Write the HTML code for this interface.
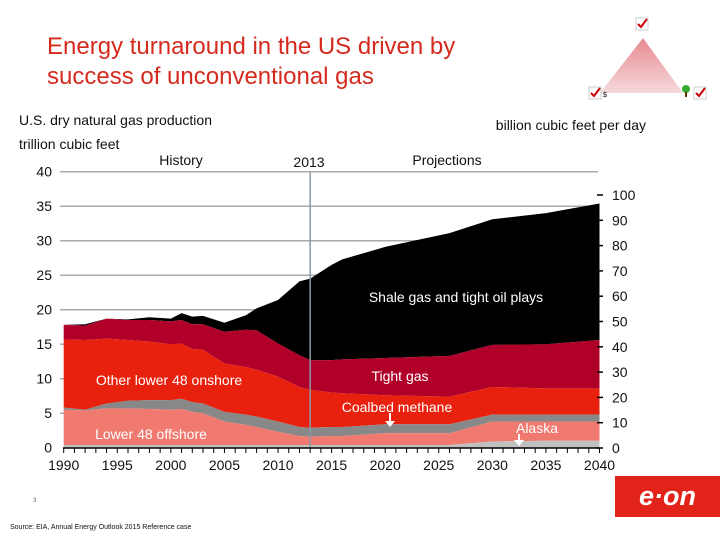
<!DOCTYPE html>
<html><head><meta charset="utf-8"><style>
body{margin:0;width:720px;height:540px;overflow:hidden;background:#fff;font-family:"Liberation Sans",sans-serif;position:relative}
.t{position:absolute;white-space:nowrap}
</style></head><body>
<div class="t" style="left:47px;top:32px;font-size:24px;line-height:30px;color:#d52b1e">Energy turnaround in the US driven by<br>success of unconventional gas</div>
<div class="t" style="left:19px;top:112px;font-size:14px;color:#111">U.S. dry natural gas production</div>
<div class="t" style="left:19px;top:136px;font-size:14px;color:#111">trillion cubic feet</div>
<div class="t" style="right:74px;top:117px;font-size:14px;color:#111">billion cubic feet per day</div>
<svg style="position:absolute;left:580px;top:15px" width="140" height="90">
<defs><linearGradient id="g" x1="0" y1="0" x2="0" y2="1"><stop offset="0" stop-color="#e58a90"/><stop offset="1" stop-color="#f6d9db"/></linearGradient></defs>
<polygon points="63,23 20,78 103,78" fill="url(#g)"/>
<rect x="56" y="3" width="12" height="12" fill="#fff" stroke="#ccc"/><path d="M58,9 l3,3 l6,-8" stroke="#c00" stroke-width="2" fill="none"/>
<rect x="9" y="72" width="12" height="12" fill="#fff" stroke="#ccc"/><path d="M11,78 l3,3 l6,-8" stroke="#c00" stroke-width="2" fill="none"/>
<text x="23" y="82" font-size="7" font-family="Liberation Sans">$</text>
<rect x="114" y="72" width="12" height="12" fill="#fff" stroke="#ccc"/><path d="M116,78 l3,3 l6,-8" stroke="#c00" stroke-width="2" fill="none"/>
<circle cx="106" cy="74" r="4" fill="#3a3"/><rect x="105" y="77" width="2" height="5" fill="#630"/>
</svg>
<svg id="chart" style="position:absolute;left:0;top:0" width="720" height="540"></svg>
<div class="t" style="left:33px;top:498px;font-size:6px;color:#666">3</div>
<div class="t" style="left:10px;top:524px;font-size:7px;color:#111">Source: EIA, Annual Energy Outlook 2015 Reference case</div>
<div style="position:absolute;left:615px;top:476px;width:105px;height:41px;background:#e2231a;color:#fff;font-size:27px;font-weight:bold;font-style:italic;text-align:center;line-height:40px">e·on</div>
<script>
const years=[1990,1992,1994,1996,1998,2000,2001,2002,2003,2005,2007,2008,2010,2012,2013,2015,2016,2020,2026,2030,2035,2040];
const alaskaTop=[0.4,0.4,0.4,0.4,0.4,0.4,0.4,0.4,0.4,0.4,0.4,0.4,0.4,0.4,0.4,0.4,0.4,0.4,0.4,0.9,1.0,1.0];
const offshoreTop=[5.5,5.4,5.7,5.7,5.6,5.5,5.6,5.2,5.0,3.8,3.3,3.0,2.3,1.7,1.6,1.7,1.7,2.1,2.1,3.8,3.8,3.8];
const coalbedTop=[5.8,5.5,6.4,6.8,6.9,6.9,7.1,6.6,6.4,5.2,4.8,4.5,3.8,3.0,2.9,3.0,3.0,3.4,3.4,4.8,4.8,4.8];
const onshoreTop=[15.7,15.6,15.8,15.6,15.4,15.0,15.1,14.3,14.2,12.2,11.7,11.3,10.3,8.8,8.4,8.0,7.9,7.6,7.4,8.8,8.6,8.6];
const tightTop=[17.8,17.7,18.7,18.5,18.5,18.3,18.5,17.9,17.9,16.8,17.1,17.0,15.1,13.4,12.7,12.7,12.8,13.0,13.3,14.9,15.0,15.6];
const shaleTop=[17.8,17.9,18.7,18.6,18.9,18.7,19.5,19.0,19.1,18.1,19.2,20.2,21.4,24.1,24.5,26.5,27.3,29.1,31.1,33.1,34.0,35.4];
const leftTicks=[0,5,10,15,20,25,30,35,40];
const rightTicks=[0,10,20,30,40,50,60,70,80,90,100];
const xTicks=[1990,1995,2000,2005,2010,2015,2020,2025,2030,2035,2040];
const NS='http://www.w3.org/2000/svg';
const svg=document.getElementById('chart');
const X=y=>63.7+(y-1990)*(599.5-63.7)/50;
const Y=v=>447.7-v*(447.7-171.7)/40;
const YR=v=>448-v*(448-195)/100;
function mk(tag,attrs,parent){const e=document.createElementNS(NS,tag);for(const k in attrs)e.setAttribute(k,attrs[k]);(parent||svg).appendChild(e);return e;}
leftTicks.forEach(v=>{
 if(v>0){const g=mk('line',{x1:60,x2:598,y1:Y(v),y2:Y(v),stroke:'#aaa','stroke-width':1.5});
 
 }
 const t=mk('text',{x:52,y:Y(v)+5,'text-anchor':'end','font-size':14,'font-family':'Liberation Sans',fill:'#111'});t.textContent=v;
 
 
});
const layers=[[shaleTop,tightTop,'#000000','shale-area'],[tightTop,onshoreTop,'#b0002a','tight-gas-area'],[onshoreTop,coalbedTop,'#e8200e','onshore-area'],[coalbedTop,offshoreTop,'#888888','coalbed-area'],[offshoreTop,alaskaTop,'#f07a70','offshore-area'],[alaskaTop,null,'#c0c0c0','alaska-area']];
layers.forEach(([top,bot,col,name])=>{
 let d='M'+years.map((y,i)=>X(y)+','+Y(top[i])).join('L');
 for(let i=years.length-1;i>=0;i--)d+='L'+X(years[i])+','+Y(bot?bot[i]:0);
 const p=mk('path',{d:d+'Z',fill:col});
 
 
});
const vl=mk('line',{x1:X(2013),x2:X(2013),y1:172,y2:448,stroke:'#8a9aa8','stroke-width':1.5});


mk('line',{x1:63,x2:599,y1:448,y2:448,stroke:'#000','stroke-width':1.5});
for(let y=1990;y<=2040;y++)mk('line',{x1:X(y),x2:X(y),y1:448,y2:453,stroke:'#000'});
xTicks.forEach(y=>{const t=mk('text',{x:X(y),y:470,'text-anchor':'middle','font-size':14,'font-family':'Liberation Sans',fill:'#111'});t.textContent=y;
 
 });
rightTicks.forEach(v=>{mk('line',{x1:597,x2:603,y1:YR(v),y2:YR(v),stroke:'#000','stroke-width':1.5});
 const t=mk('text',{x:612,y:YR(v)+5,'font-size':14,'font-family':'Liberation Sans',fill:'#111'});t.textContent=v;
 
 });
const labels=[['History',181,165,'#111','history-label'],['2013',309,167,'#111','year-2013-label'],['Projections',447,165,'#111','projections-label'],['Shale gas and tight oil plays',456,302,'#fff','shale-label'],['Tight gas',400,381,'#fff','tight-gas-label'],['Other lower 48 onshore',169,385,'#fff','onshore-label'],['Coalbed methane',397,412,'#fff','coalbed-label'],['Lower 48 offshore',151,439,'#fff','offshore-label'],['Alaska',537,433,'#fff','alaska-label']];
labels.forEach(([s,x,y,c,n])=>{const t=mk('text',{x:x,y:y,'text-anchor':'middle','font-size':14,'font-family':'Liberation Sans',fill:c});t.textContent=s;
 
 });
[[390,413,427],[519,434,446]].forEach(([x,y1,y2])=>{mk('line',{x1:x,x2:x,y1:y1,y2:y2-5,stroke:'#fff','stroke-width':2});mk('polygon',{points:(x-5)+','+(y2-6)+' '+(x+5)+','+(y2-6)+' '+x+','+y2,fill:'#fff'});});
</script>
</body></html>
